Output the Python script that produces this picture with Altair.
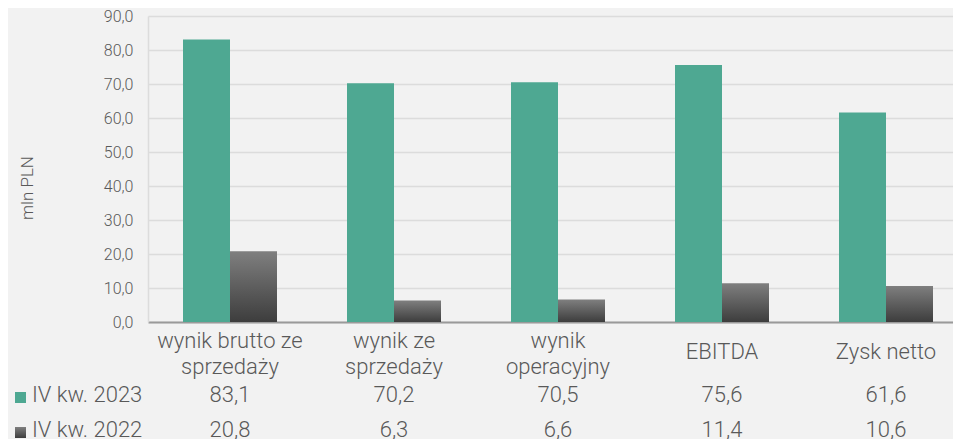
import altair as alt
import pandas as pd

# ---- data ----
categories = ["wynik brutto ze|sprzedaży", "wynik ze|sprzedaży", "wynik|operacyjny", "EBITDA", "Zysk netto"]
series = ["IV kw. 2023", "IV kw. 2022"]
v2023 = [83.1, 70.2, 70.5, 75.6, 61.6]
v2022 = [20.8, 6.3, 6.6, 11.4, 10.6]
y_ticks = [0, 10, 20, 30, 40, 50, 60, 70, 80, 90]

df = pd.DataFrame({"cat": categories, "v2023": v2023, "v2022": v2022})
one = pd.DataFrame({"s1": [series[0]], "s2": [series[1]]})

GREEN = "#4ea892"
TXT = "#595959"
FONT = "Roboto"
gray_grad = alt.Gradient(
    gradient="linear",
    stops=[alt.GradientStop(offset=0, color="#7f7f7f"), alt.GradientStop(offset=1, color="#3d3d3d")],
    x1=0, x2=0, y1=0, y2=1,
)

fmt = "replace(format(datum.{f}, '.1f'), '.', ',')"

x_enc = alt.X(
    "cat:N", sort=categories,
    scale=alt.Scale(paddingInner=0, paddingOuter=0, range=[0, 820]),
    axis=alt.Axis(
        title=None, labelExpr="split(datum.label, '|')", labelAngle=0,
        labelFontSize=22, labelLineHeight=26, labelBaseline="middle",
        labelPadding={"condition": {"test": "indexof(datum.label, '|') >= 0", "value": 18}, "value": 29},
        ticks=False, tickSize=0, domainColor="#9a9a9a", domainWidth=2,
        labelColor=TXT, grid=False, labelFontWeight=300,
    ),
)

y_axis = alt.Axis(
    values=y_ticks, title="mln PLN",
    labelExpr="replace(format(datum.value, '.1f'), '.', ',')",
    labelFontSize=16, labelColor=TXT, labelPadding=15, ticks=False, tickSize=0,
    domainColor="#dcdcdc", domainWidth=1.5, gridColor="#dcdcdc", gridWidth=1.5, grid=True,
    titleFontSize=17, titleColor=TXT, titleFontWeight=300, labelFontWeight=300,
    titleX=-121, titleY=171.5, titleAngle=-90, titleAlign="center", titleBaseline="middle",
)
y_scale = alt.Scale(domain=[0, 90], nice=False)

base = alt.Chart(df)

bars23 = base.mark_bar(width=47, xOffset=-23.5, color=GREEN).encode(
    x=x_enc, y=alt.Y("v2023:Q", scale=y_scale, axis=y_axis)
)
bars22 = base.mark_bar(width=47, xOffset=23.5, fill=gray_grad).encode(
    x=x_enc, y=alt.Y("v2022:Q", scale=y_scale, axis=y_axis)
)

txt_style = dict(fontSize=22, color=TXT, font=FONT, fontWeight=300, baseline="alphabetic")

row23 = base.transform_calculate(t=fmt.format(f="v2023")).mark_text(**txt_style).encode(
    x=x_enc, y=alt.value(386), text="t:N")
row22 = base.transform_calculate(t=fmt.format(f="v2022")).mark_text(**txt_style).encode(
    x=x_enc, y=alt.value(421), text="t:N")

leg = alt.Chart(one)
leg_t1 = leg.mark_text(align="left", **txt_style).encode(
    x=alt.value(-116), y=alt.value(386), text="s1:N")
leg_t2 = leg.mark_text(align="left", **txt_style).encode(
    x=alt.value(-116), y=alt.value(421), text="s2:N")
leg_s1 = leg.mark_rect(color=GREEN).encode(
    x=alt.value(-133), x2=alt.value(-122), y=alt.value(376), y2=alt.value(387))
leg_s2 = leg.mark_rect(fill=gray_grad).encode(
    x=alt.value(-133), x2=alt.value(-122), y=alt.value(411), y2=alt.value(422))

chart = alt.layer(bars23, bars22, row23, row22, leg_t1, leg_t2, leg_s1, leg_s2).properties(
    width=805, height=306,
    autosize=alt.AutoSizeParams(type="none"),
    padding={"left": 140, "top": 8, "right": 0, "bottom": 125},
).configure(background="#f2f2f2", font=FONT).configure_view(stroke=None).configure_axis(
    labelFont=FONT, titleFont=FONT
)

chart.save("out.html", embed_options={"renderer": "svg", "actions": False})
